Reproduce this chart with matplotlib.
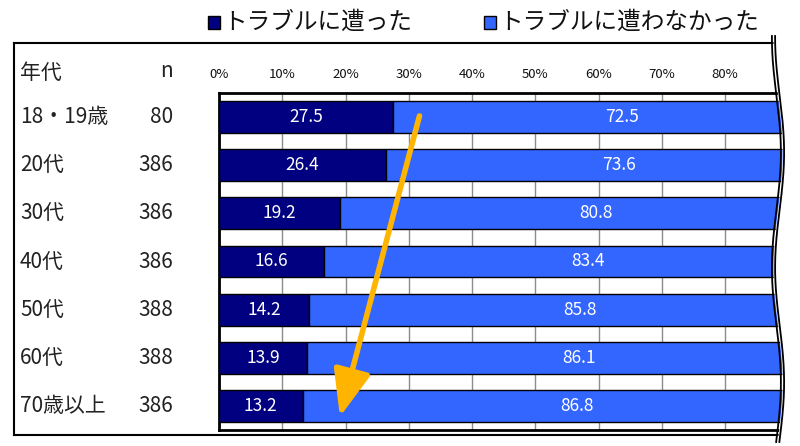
import numpy as np
import matplotlib
matplotlib.use("Agg")
import matplotlib.pyplot as plt
from matplotlib.lines import Line2D
from matplotlib.patches import Polygon, Rectangle

plt.rcParams["font.family"] = ["Noto Sans CJK JP", "DejaVu Sans"]

ages = ["18・19歳", "20代", "30代", "40代", "50代", "60代", "70歳以上"]
counts = [80, 386, 386, 386, 388, 388, 386]
had_trouble = [27.5, 26.4, 19.2, 16.6, 14.2, 13.9, 13.2]
no_trouble = [72.5, 73.6, 80.8, 83.4, 85.8, 86.1, 86.8]
ticks = [0, 10, 20, 30, 40, 50, 60, 70, 80, 90]
legend_labels = ["トラブルに遭った", "トラブルに遭わなかった"]

DARK = "#000080"
BLUE = "#3366FF"
ORANGE = "#FFB400"
W, H = 800, 446

fig = plt.figure(figsize=(8, 4.46), dpi=100)
ax = fig.add_axes([219 / W, 1 - 430 / H, 565 / W, 337 / H])

y = np.arange(len(ages))
ax.barh(y, had_trouble, height=0.66, color=DARK, edgecolor="black", linewidth=1, zorder=3)
ax.barh(y, no_trouble, left=had_trouble, height=0.66, color=BLUE, edgecolor="black",
        linewidth=1, zorder=3)

for i in range(len(ages)):
    ax.text(had_trouble[i] / 2, i, f"{had_trouble[i]:.1f}", color="white", fontsize=12.5,
            ha="center", va="center", zorder=4)
    ax.text(had_trouble[i] + no_trouble[i] / 2, i, f"{no_trouble[i]:.1f}", color="white",
            fontsize=12.5, ha="center", va="center", zorder=4)

ax.set_xlim(0, 89.3)
ax.set_ylim(len(ages) - 0.5, -0.5)
ax.set_xticks(ticks[:-1])
ax.set_xticklabels([f"{t}%" for t in ticks[:-1]], fontsize=9.5, color="#111")
ax.xaxis.tick_top()
ax.tick_params(axis="x", length=0, pad=9)
# last tick label is cut off by the break line
ax.annotate(f"{ticks[-1]}%", xy=(ticks[-1], 1), xycoords=("data", "axes fraction"),
            xytext=(0, 9), textcoords="offset points", ha="center", va="bottom",
            fontsize=9.5, color="#111", annotation_clip=False)
ax.set_yticks([])
ax.grid(axis="x", color="#8c8c8c", linewidth=1, zorder=1)
for side in ["top", "left", "bottom"]:
    ax.spines[side].set_linewidth(2)
ax.spines["right"].set_visible(False)

# arrow
ax.annotate("", xy=(19.0, 6.28), xytext=(31.8, -0.08),
            arrowprops=dict(arrowstyle="-|>,head_length=1.5,head_width=0.6",
                            color=ORANGE, lw=4, mutation_scale=19),
            zorder=6, annotation_clip=False)

# left table
fig.text(20 / W, 1 - 73 / H, "年代", fontsize=15, color="#222", va="center")
fig.text(173 / W, 1 - 71 / H, "n", fontsize=15, color="#222", va="center", ha="right")
for i in range(len(ages)):
    yy = ax.transData.transform((0, i))[1] / fig.dpi / 4.46
    fig.text(20 / W, yy, ages[i], fontsize=15, color="#222", va="center")
    fig.text(173 / W, yy, str(counts[i]), fontsize=15, color="#222", va="center", ha="right")

# outer frame (left, top, bottom)
frame = [
    Line2D([14 / W, 14 / W], [1 - 43 / H, 1 - 435 / H], color="black", lw=1.5),
    Line2D([14 / W, 782 / W], [1 - 43 / H, 1 - 43 / H], color="black", lw=1.5),
    Line2D([14 / W, 782 / W], [1 - 435 / H, 1 - 435 / H], color="black", lw=1.5),
]
for ln in frame:
    fig.add_artist(ln)

# wavy break on the right
yy = np.linspace(36, 442, 200)
xw = 778 + 4.5 * np.sin(2 * np.pi * (yy - 95) / 230)
fx = xw / W
fy = 1 - yy / H
cover = np.column_stack([np.r_[fx, 1, 1], np.r_[fy, fy[-1], fy[0]]])
fig.add_artist(Polygon(cover, closed=True, facecolor="white", edgecolor="none", zorder=10))
fig.add_artist(Line2D(fx - 1.6 / W, fy, color="black", lw=1.3, zorder=11))
fig.add_artist(Line2D(fx + 1.6 / W, fy, color="black", lw=1.3, zorder=11))

# legend
for k, (x0, col) in enumerate([(208, DARK), (484, BLUE)]):
    fig.add_artist(Rectangle((x0 / W, 1 - 29 / H), 12 / W, 13 / H, facecolor=col,
                             edgecolor="black", lw=1))
    fig.text((x0 + 15) / W, 1 - 22 / H, legend_labels[k], fontsize=17, color="#111",
             va="center")

fig.savefig("out.png", dpi=100)
